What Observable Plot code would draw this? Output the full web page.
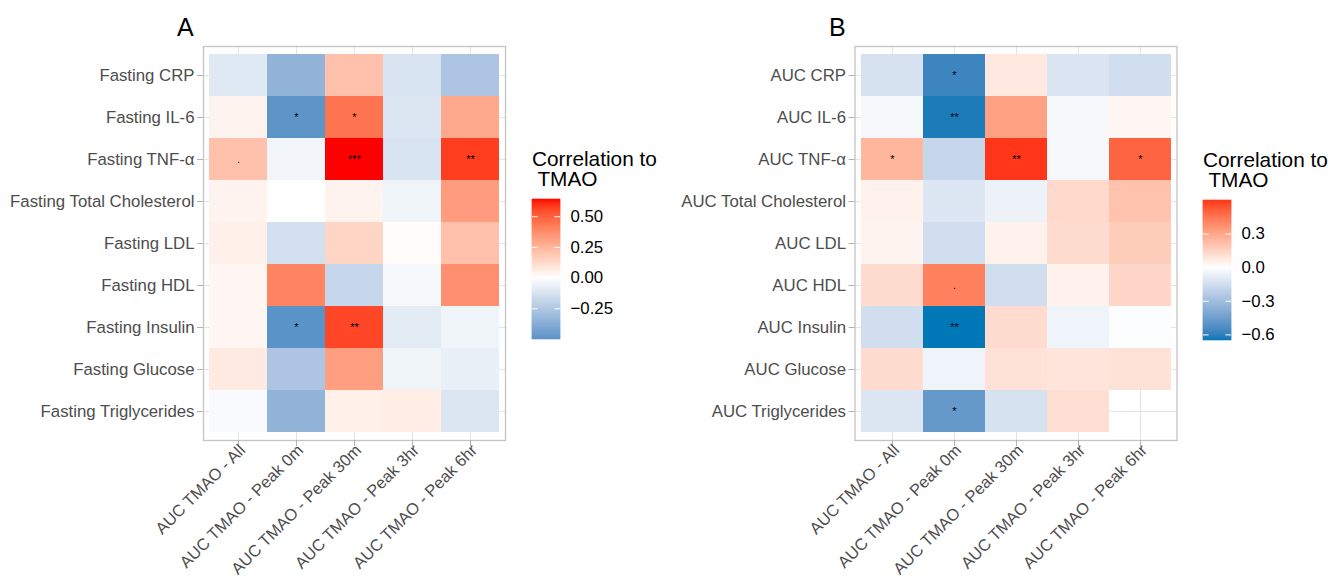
<!DOCTYPE html>
<html><head><meta charset="utf-8">
<script src="https://cdn.jsdelivr.net/npm/d3@7"></script>
<script src="https://cdn.jsdelivr.net/npm/@observablehq/plot@0.6"></script>
<style>
body{margin:0;background:#fff;font-family:"Liberation Sans",Arial,sans-serif;}
#root{position:relative;width:1331px;height:583px;overflow:hidden;background:#fff;}
.abs{position:absolute;}
.tag{font-size:25px;line-height:25px;color:#000;}
.ltitle{font-size:20.8px;line-height:20px;white-space:pre;color:#000;}
</style></head><body><div id="root"></div>
<script>
// ---- data ----
const columns = ["AUC TMAO - All","AUC TMAO - Peak 0m","AUC TMAO - Peak 30m","AUC TMAO - Peak 3hr","AUC TMAO - Peak 6hr"];
const rowsA = ["Fasting CRP","Fasting IL-6","Fasting TNF-α","Fasting Total Cholesterol","Fasting LDL","Fasting HDL","Fasting Insulin","Fasting Glucose","Fasting Triglycerides"];
const rowsB = ["AUC CRP","AUC IL-6","AUC TNF-α","AUC Total Cholesterol","AUC LDL","AUC HDL","AUC Insulin","AUC Glucose","AUC Triglycerides"];
const valuesA = [
  [-0.10,-0.34, 0.21,-0.12,-0.26],
  [ 0.04,-0.49, 0.45,-0.11, 0.29],
  [ 0.21,-0.04, 0.64,-0.12, 0.58],
  [ 0.04, 0.00, 0.04,-0.05, 0.33],
  [ 0.05,-0.14, 0.14, 0.01, 0.21],
  [ 0.03, 0.40,-0.18,-0.03, 0.37],
  [ 0.03,-0.50, 0.56,-0.09,-0.05],
  [ 0.07,-0.26, 0.32,-0.05,-0.07],
  [-0.02,-0.34, 0.05, 0.06,-0.11]
];
const sigA = [
  ["","","","",""],
  ["","*","*","",""],
  [".","","***","","**"],
  ["","","","",""],
  ["","","","",""],
  ["","","","",""],
  ["","*","**","",""],
  ["","","","",""],
  ["","","","",""]
];
const valuesB = [
  [-0.13,-0.58, 0.08,-0.12,-0.15],
  [-0.03,-0.63, 0.32,-0.03, 0.03],
  [ 0.25,-0.18, 0.60,-0.03, 0.50],
  [ 0.05,-0.11,-0.06, 0.13, 0.21],
  [ 0.04,-0.15, 0.05, 0.12, 0.17],
  [ 0.12, 0.42,-0.15, 0.05, 0.14],
  [-0.15,-0.65, 0.12,-0.05,-0.01],
  [ 0.12,-0.05, 0.10, 0.09, 0.10],
  [-0.11,-0.48,-0.13, 0.11, null]
];
const sigB = [
  ["","*","","",""],
  ["","**","","",""],
  ["*","","**","","*"],
  ["","","","",""],
  ["","","","",""],
  ["",".","","",""],
  ["","**","","",""],
  ["","","","",""],
  ["","*","","",""]
];
const legendTicksA = [-0.25, 0, 0.25, 0.5];
const legendTicksB = [-0.6, -0.3, 0, 0.3];
const legendTitle = "Correlation to\n TMAO";
const LOW = "#0077B7", MID = "#ffffff", HIGH = "#ff0000";

const FONT = "'Liberation Sans', Arial, sans-serif";
const FS = 16.8;
const root = document.getElementById("root");

function table(rows, values, sigs) {
  const out = [];
  rows.forEach((r, i) => columns.forEach((c, j) => {
    if (values[i][j] != null) out.push({row: r, col: c, value: values[i][j], sig: sigs[i][j]});
  }));
  return out;
}
function colorOpts(M) {
  return {type: "linear", domain: [-M, 0, M], range: [LOW, MID, HIGH], interpolate: "lab"};
}

function heatPanel(rows, values, sigs, width, ml) {
  const data = table(rows, values, sigs);
  const M = d3.max(data, d => Math.abs(d.value));
  return {M, data, plot: Plot.plot({
    width, height: 583,
    marginLeft: ml, marginRight: 10, marginTop: 46, marginBottom: 143,
    style: {fontFamily: FONT, fontSize: FS + "px", background: "transparent", overflow: "visible"},
    x: {domain: columns, padding: 0, insetLeft: 6, insetRight: 6, label: null},
    y: {domain: rows, padding: 0, insetTop: 4, insetBottom: 4, label: null},
    color: colorOpts(M),
    marks: [
      Plot.gridX({stroke: "#e4e4e4", strokeOpacity: 1, strokeWidth: 1}),
      Plot.gridY({stroke: "#e4e4e4", strokeOpacity: 1, strokeWidth: 1}),
      Plot.cell(data, {x: "col", y: "row", fill: "value", inset: 0, shapeRendering: "crispEdges"}),
      Plot.text(data.filter(d => d.sig), {x: "col", y: "row", text: "sig", fontSize: 11, fill: "black"}),
      Plot.frame({stroke: "#c4c4c4", strokeWidth: 1.3}),
      Plot.axisX({tickSize: 6, stroke: "#b3b3b3", tickFormat: () => "", label: null}),
      Plot.axisX({tickRotate: -45, tickSize: 0, tickPadding: 8, dx: 4, dy: -1, fill: "#4d4d4d", fontSize: 16.5, label: null}),
      Plot.axisY({tickSize: 6, tickPadding: 3, stroke: "#b3b3b3", fill: "#4d4d4d", fontSize: FS, label: null})
    ]
  })};
}

function legendPlot(min, max, M, ticks, fmt) {
  const n = 140;
  const stops = d3.range(n).map(i => ({y1: min + (max - min) * i / n, y2: min + (max - min) * (i + 1) / n}));
  return Plot.plot({
    width: 130, height: 160,
    marginLeft: 0, marginRight: 102, marginTop: 10, marginBottom: 10,
    style: {fontFamily: FONT, fontSize: FS + "px", background: "transparent", overflow: "visible"},
    x: {domain: [0, 1], axis: null},
    y: {domain: [min, max]},
    color: colorOpts(M),
    marks: [
      Plot.rect(stops, {x1: 0, x2: 1, y1: "y1", y2: "y2", fill: d => (d.y1 + d.y2) / 2, stroke: d => (d.y1 + d.y2) / 2, strokeWidth: 0.6}),
      Plot.ruleY(ticks, {x1: 0, x2: 0.2, stroke: "white", strokeWidth: 1}),
      Plot.ruleY(ticks, {x1: 0.8, x2: 1, stroke: "white", strokeWidth: 1}),
      Plot.axisY({anchor: "right", ticks, tickSize: 0, tickPadding: 10, tickFormat: fmt, fill: "black", fontSize: FS, label: null})
    ]
  });
}

function place(node, left, top) {
  node.style.position = "absolute";
  node.style.left = left + "px";
  node.style.top = top + "px";
  root.appendChild(node);
  return node;
}
function label(text, cls, left, top) {
  const d = document.createElement("div");
  d.className = "abs " + cls;
  d.textContent = text;
  return place(d, left, top);
}

const A = heatPanel(rowsA, valuesA, sigA, 515, 203);
const B = heatPanel(rowsB, valuesB, sigB, 546.5, 214.5);
place(A.plot, 0, 0);
place(B.plot, 640, 0);

const extA = d3.extent(A.data, d => d.value);
const extB = d3.extent(B.data, d => d.value);
place(legendPlot(extA[0], extA[1], A.M, legendTicksA, d3.format(".2f")), 532, 189);
place(legendPlot(extB[0], extB[1], B.M, legendTicksB, d3.format(".1f")), 1203, 190);

label("A", "tag", 177, 15);
label("B", "tag", 829, 15);
label(legendTitle, "ltitle", 532, 149);
label(legendTitle, "ltitle", 1203, 150);
</script>
</body></html>
